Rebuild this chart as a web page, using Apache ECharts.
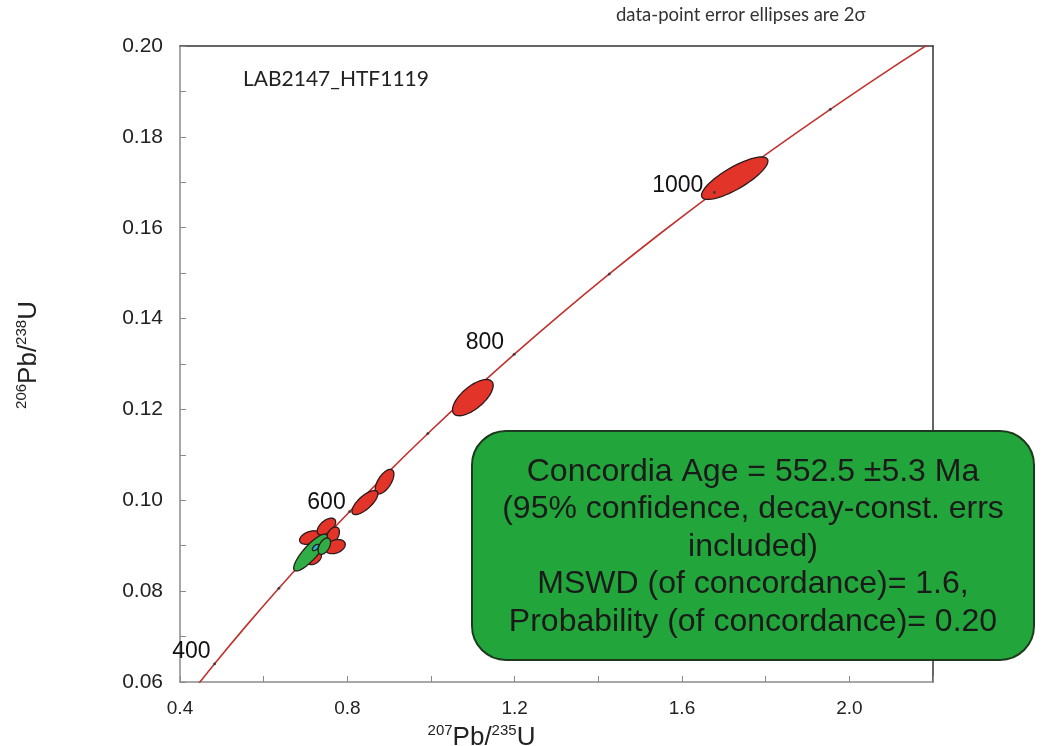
<!DOCTYPE html>
<html><head><meta charset="utf-8">
<script src="https://cdn.jsdelivr.net/npm/echarts@6/dist/echarts.min.js"></script>
<style>html,body{margin:0;padding:0;background:#fff}#c{width:1049px;height:746px}</style>
</head><body><div id="c"></div>
<script>
// Concordia curve (age in Ma, 207Pb/235U, 206Pb/238U)
const concordiaAges = [350,400,450,500,550,600,650,700,750,800,850,900,950,1000,1050,1100,1150,1200];
const concordiaX = [0.41157,0.48278,0.55766,0.63628,0.71887,0.80564,0.89677,0.99251,1.09308,1.19873,1.30971,1.42630,1.54876,1.67741,1.81255,1.95452,2.10365,2.26030];
const concordiaY = [0.05580,0.06402,0.07230,0.08065,0.08906,0.09754,0.10609,0.11470,0.12338,0.13213,0.14094,0.14983,0.15878,0.16780,0.17690,0.18606,0.19530,0.20460];
const tickAges = [400,500,600,700,800,900,1000,1100];
const labelAges = [400,600,800,1000];
// error ellipses: [centre x, centre y, half-extent x, half-extent y, rho]
const redEllipses = [
  [1.726,0.1709,0.0794,0.00468,0.807],
  [1.100,0.1226,0.0486,0.00399,0.671],
  [0.889,0.1041,0.0223,0.00270,0.611],
  [0.842,0.0995,0.0310,0.00265,0.729],
  [0.711,0.0918,0.0251,0.00149,0.382],
  [0.750,0.0942,0.0221,0.00186,0.536],
  [0.7655,0.0923,0.0156,0.00182,0.406],
  [0.771,0.0898,0.0241,0.00156,0.304],
  [0.721,0.0872,0.0170,0.00136,0.416]
];
const greenEllipses = [
  [0.712,0.0885,0.0402,0.00406,0.842],
  [0.745,0.0899,0.0149,0.00180,0.474]
];
const concordiaEllipse = [[0.724,0.0896,0.0075,0.0007,0.6]];
const boxLines = ['Concordia Age = 552.5 ±5.3 Ma','(95% confidence, decay-const. errs','included)','MSWD (of concordance)= 1.6,','Probability (of concordance)= 0.20'];
const sampleName = 'LAB2147_HTF1119';
const noteText = 'data-point error ellipses are 2σ';

const chart = echarts.init(document.getElementById('c'));
const curveData = concordiaAges.map((a,i)=>[concordiaX[i],concordiaY[i],a]);
const tickData = curveData.filter(d=>tickAges.includes(d[2]));
const labelOffsets = {400:[-4,-12],600:[-4,-9],800:[-10,-12],1000:[-11,-7]};
const labelData = curveData.filter(d=>labelAges.includes(d[2])).map(d=>({
  value:d,
  label:{show:true,position:'left',distance:0,offset:labelOffsets[d[2]],formatter:String(d[2]),
         fontSize:23,color:'#111',opacity:1,fontFamily:'Liberation Sans'}
}));

function ellipseSeries(data, fill, z){
  return {
    type:'custom', coordinateSystem:'cartesian2d', z:z, silent:true,
    encode:{x:0,y:1},
    data:data,
    renderItem:function(params, api){
      const cx=api.value(0), cy=api.value(1), sx=api.value(2), sy=api.value(3), r=api.value(4);
      const q=Math.sqrt(1-r*r), pts=[];
      for(let k=0;k<72;k++){
        const t=k/72*2*Math.PI;
        pts.push(api.coord([cx+sx*Math.cos(t), cy+sy*(r*Math.cos(t)+q*Math.sin(t))]));
      }
      return {type:'polygon',shape:{points:pts},style:{fill:fill,stroke:'#2a1a1a',lineWidth:1.3}};
    }
  };
}

const axisGrey = '#8a8a8a';
const titleRich = {b:{fontSize:26,fontFamily:'Liberation Sans',color:'#222',lineHeight:30},
                   s:{fontSize:15,fontFamily:'Liberation Sans',color:'#222',verticalAlign:'top',lineHeight:30,padding:[0,0,12,0]}};
chart.setOption({
  animation:false,
  grid:{left:180,right:116,top:46,bottom:64,containLabel:false,outerBoundsMode:'none'},
  xAxis:[{
    type:'value',min:0.4,max:2.2,interval:0.2,
    name:'{s|207}{b|Pb/}{s|235}{b|U}',nameLocation:'middle',nameGap:34,
    nameTextStyle:{rich:titleRich,padding:[0,150,0,0]},
    axisLine:{lineStyle:{color:axisGrey,width:1.5}},
    axisTick:{inside:true,length:6,lineStyle:{color:axisGrey}},
    splitLine:{show:false},
    axisLabel:{fontSize:19,color:'#222',fontFamily:'Liberation Sans',margin:17,
      formatter:v=>Math.round(v*10)%4===0?v.toFixed(1):''}
  },{
    type:'value',min:0.4,max:2.2,position:'top',
    axisLine:{show:true,lineStyle:{color:'#333',width:1.5}},axisTick:{show:false},axisLabel:{show:false},splitLine:{show:false}
  }],
  yAxis:[{
    type:'value',min:0.06,max:0.20,interval:0.01,
    name:'{s|206}{b|Pb/}{s|238}{b|U}',nameLocation:'middle',nameGap:136,nameRotate:90,
    nameTextStyle:{rich:titleRich,padding:[0,0,0,18]},
    axisLine:{show:true,lineStyle:{color:axisGrey,width:1.5}},
    axisTick:{show:true,inside:true,length:6,lineStyle:{color:axisGrey}},
    splitLine:{show:false},
    axisLabel:{fontSize:21,color:'#222',fontFamily:'Liberation Sans',margin:17,
      formatter:v=>Math.round(v*100)%2===0?v.toFixed(2):''}
  },{
    type:'value',min:0.06,max:0.20,position:'right',
    axisLine:{show:true,lineStyle:{color:'#333',width:1.5}},axisTick:{show:false},axisLabel:{show:false},splitLine:{show:false}
  }],
  series:[
    {type:'line',data:curveData,showSymbol:false,smooth:0.3,z:2,silent:true,clip:true,
     lineStyle:{color:'#c0332f',width:1.6}},
    ellipseSeries(redEllipses,'#e3342a',3),
    ellipseSeries(greenEllipses,'#2fae45',4),
    ellipseSeries(concordiaEllipse,'#2bb5d4',5),
    {type:'scatter',data:tickData,symbol:'circle',symbolSize:3,z:6,silent:true,itemStyle:{color:'#333'}},
    {type:'scatter',data:labelData,symbolSize:0,z:6,silent:true,itemStyle:{opacity:1}}
  ],
  graphic:[
    {type:'text',left:616,top:6,z:10,style:{text:noteText,font:'18.5px Lato',fill:'#333'}},
    {type:'text',left:243,top:69,z:10,style:{text:sampleName,font:'21px Lato',fill:'#222'}},
    {type:'group',left:471,top:430,z:50,children:[
      {type:'rect',z:50,shape:{x:0,y:0,width:562,height:229,r:34},
       style:{fill:'#22a63b',stroke:'#1d3a1f',lineWidth:2}},
      {type:'text',z:51,style:{text:boxLines.join('\n'),x:281,y:116,align:'center',verticalAlign:'middle',
        font:'32px Liberation Sans',lineHeight:37.5,fill:'#1a1a1a'}}
    ]}
  ]
});
</script></body></html>
